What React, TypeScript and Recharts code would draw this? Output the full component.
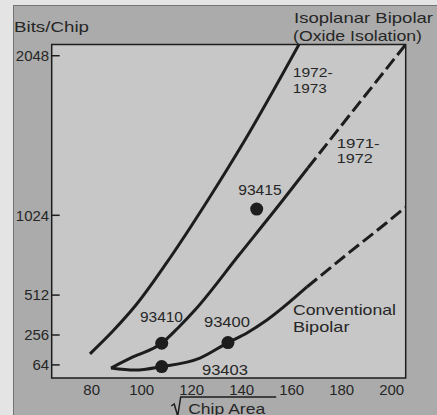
import React from 'react';
import {
  ComposedChart,
  Line,
  Scatter,
  XAxis,
  YAxis,
  CartesianGrid,
  ReferenceArea,
  Customized,
} from 'recharts';

// ---- axes ----
const xTicks = [80, 100, 120, 140, 160, 180, 200];
const yTicks = [64, 256, 512, 1024, 2048];
const xDomain = [64, 205.6];
const yDomain = [-20, 2120];

// ---- Isoplanar 1972-1973 (solid) ----
const iso7273X = [79.3, 88.1, 97.7, 111.3, 126.5, 141.3, 162.9];
const iso7273Y = [135, 275, 448, 750, 1122, 1507, 2120];

// ---- Isoplanar 1971-1972: measured (solid) and projected (dashed) ----
const iso7172X = [87.7, 96.5, 108, 114.5, 121.3, 138.9, 156.5, 166.5];
const iso7172Y = [44, 115, 203, 301, 416, 769, 1122, 1328];
const iso7172ProjX = [166.5, 175.3, 205.6];
const iso7172ProjY = [1328, 1507, 2120];

// ---- Conventional bipolar: measured (solid) and projected (dashed) ----
const convX = [87.7, 97.3, 108, 123.3, 134.5, 142.1, 150.1, 166.1];
const convY = [44, 31, 53, 108, 207, 269, 352, 564];
const convProjX = [166.1, 183.3, 198.1, 205.6];
const convProjY = [564, 789, 978, 1077];

// ---- parts ----
const partNames = ['93410', '93403', '93400', '93415'];
const partX = [108, 108, 134.5, 146];
const partY = [203, 53, 207, 1064];

// ---- in-plot annotations (anchor = start of baseline) ----
const noteText = ['1972-', '1973', '1971-', '1972', '93415', '93410', '93400', '93403', 'Conventional', 'Bipolar'];
const noteX = [160.4, 160.4, 178.0, 178.0, 138.6, 99.3, 124.9, 124.1, 160.5, 160.5];
const noteY = [1911, 1806, 1458, 1358, 1152, 339, 307, 2, 387, 275];

// text widths / sizes (style)
const noteWidths: Record<string, number> = {
  '1972-': 40,
  '1973': 34,
  '1971-': 43,
  '1972': 36,
  '93415': 43.5,
  '93410': 43,
  '93400': 46,
  '93403': 46,
  Conventional: 103,
  Bipolar: 56.5,
};
const noteSizes: Record<string, number> = {
  '1972-': 13.5,
  '1973': 13.5,
  '1971-': 13.5,
  '1972': 13.5,
};

const zip = (xs: number[], ys: number[]) => xs.map((x, i) => ({ x, y: ys[i] }));

const iso7273 = zip(iso7273X, iso7273Y);
const iso7172 = zip(iso7172X, iso7172Y);
const iso7172Proj = zip(iso7172ProjX, iso7172ProjY);
const conv = zip(convX, convY);
const convProj = zip(convProjX, convProjY);
const parts = partNames.map((name, i) => ({ name, x: partX[i], y: partY[i] }));
const notes = noteText.map((text, i) => ({ text, x: noteX[i], y: noteY[i] }));

const FONT = '"Liberation Sans", Arial, Helvetica, sans-serif';
const INK = '#1d1d1d';
const TEXT = '#262626';

const YTick = (props: any) => {
  const { x, y, payload } = props;
  return (
    <g>
      <line x1={x} x2={x + 8} y1={y} y2={y} stroke={INK} strokeWidth={1.5} />
      <text x={x - 2.5} y={y + 5.3} textAnchor="end" fontSize={15} fontFamily={FONT} fill={TEXT}>
        {payload.value}
      </text>
    </g>
  );
};

const XTick = (props: any) => {
  const { x, y, payload } = props;
  return (
    <text x={x} y={y + 11} textAnchor="middle" fontSize={15} fontFamily={FONT} fill={TEXT}>
      {payload.value}
    </text>
  );
};

const ChipAreaLabel = (props: any) => {
  const vb = props.viewBox || { x: 51.7, y: 378 };
  const ox = vb.x;
  const oy = vb.y;
  return (
    <g>
      <path
        d={`M ${ox + 119.5} ${oy + 28} L ${ox + 122.5} ${oy + 26} L ${ox + 126} ${oy + 38} L ${ox + 129} ${oy + 19} L ${ox + 224.5} ${oy + 19}`}
        fill="none"
        stroke={INK}
        strokeWidth={1.5}
      />
      <text
        x={ox + 136.5}
        y={oy + 35.5}
        fontSize={15}
        fontFamily={FONT}
        fill={TEXT}
        textLength={77}
        lengthAdjust="spacingAndGlyphs"
      >
        Chip Area
      </text>
    </g>
  );
};

const TopTexts = () => (
  <g fontFamily={FONT} fontSize={15} fill={TEXT}>
    <text x={14} y={31.5} textLength={75} lengthAdjust="spacingAndGlyphs">
      Bits/Chip
    </text>
    <text x={294} y={23} textLength={139} lengthAdjust="spacingAndGlyphs">
      Isoplanar Bipolar
    </text>
    <text x={293} y={40.5} textLength={129} lengthAdjust="spacingAndGlyphs">
      (Oxide Isolation)
    </text>
  </g>
);

const PartDot = (p: any) => <circle cx={p.cx} cy={p.cy} r={6.5} fill={INK} />;

const NoteShape = (p: any) => (
  <text
    x={p.cx}
    y={p.cy}
    fontSize={noteSizes[p.payload.text] || 15}
    fontFamily={FONT}
    fill={TEXT}
    textLength={noteWidths[p.payload.text]}
    lengthAdjust="spacingAndGlyphs"
  >
    {p.payload.text}
  </text>
);

export default function App() {
  return (
    <div
      style={{
        position: 'absolute',
        left: 0,
        top: 0,
        width: 437,
        height: 415,
        background: '#e4e4e4',
        overflow: 'hidden',
      }}
    >
      <div
        style={{
          position: 'absolute',
          left: 13,
          top: 5,
          width: 424,
          height: 410,
          background: '#ababab',
          borderLeft: '1px solid #747474',
          borderTop: '1px solid #747474',
          boxSizing: 'border-box',
        }}
      />
      <div style={{ position: 'absolute', left: 0, top: 0 }}>
        <ComposedChart width={437} height={415} margin={{ top: 44.5, right: 31.3, bottom: 0, left: 0 }}>
          <CartesianGrid horizontal={false} vertical={false} fill="#c7c7c7" fillOpacity={1} />
          <XAxis
            type="number"
            dataKey="x"
            domain={xDomain}
            ticks={xTicks}
            interval={0}
            height={37}
            axisLine={false}
            tickLine={false}
            tickSize={0}
            tickMargin={6}
            tick={<XTick />}
            allowDataOverflow
            label={<ChipAreaLabel />}
          />
          <YAxis
            type="number"
            dataKey="y"
            domain={yDomain}
            ticks={yTicks}
            interval={0}
            width={51.7}
            axisLine={false}
            tickLine={false}
            tickSize={0}
            tickMargin={0}
            tick={<YTick />}
            allowDataOverflow
          />
          <ReferenceArea
            x1={xDomain[0]}
            x2={xDomain[1]}
            y1={yDomain[0]}
            y2={yDomain[1]}
            fill="none"
            stroke={INK}
            strokeWidth={1.5}
            ifOverflow="visible"
          />
          <Line data={iso7273} dataKey="y" type="monotone" stroke={INK} strokeWidth={3} dot={false} activeDot={false} isAnimationActive={false} />
          <Line data={iso7172} dataKey="y" type="monotone" stroke={INK} strokeWidth={3} dot={false} activeDot={false} isAnimationActive={false} />
          <Line data={iso7172Proj} dataKey="y" type="monotone" stroke={INK} strokeWidth={3} strokeDasharray="13 5" dot={false} activeDot={false} isAnimationActive={false} />
          <Line data={conv} dataKey="y" type="monotone" stroke={INK} strokeWidth={3} dot={false} activeDot={false} isAnimationActive={false} />
          <Line data={convProj} dataKey="y" type="monotone" stroke={INK} strokeWidth={3} strokeDasharray="13 5" dot={false} activeDot={false} isAnimationActive={false} />
          <Scatter data={parts} dataKey="y" shape={PartDot} isAnimationActive={false} />
          <Scatter data={notes} dataKey="y" shape={NoteShape} isAnimationActive={false} />
          <Customized component={TopTexts} />
        </ComposedChart>
      </div>
    </div>
  );
}
